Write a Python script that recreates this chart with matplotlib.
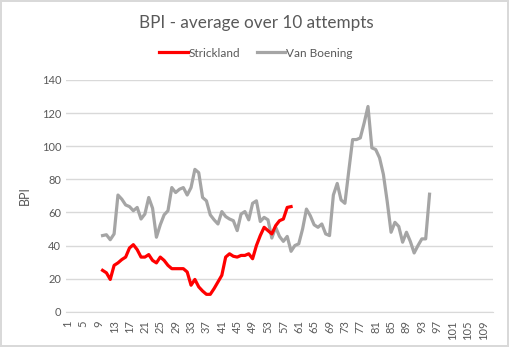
import matplotlib.pyplot as plt
from matplotlib.lines import Line2D

plt.rcParams['font.family'] = ['Lato', 'DejaVu Sans']

# categories 1..111 on the x axis
categories = list(range(1, 112))

strickland_start = 10
strickland = [25, 23.5, 19.5, 28, 29.5, 31.5, 33, 38.5, 40.5, 37.5,
              33, 33, 34.5, 31, 29.5, 33, 31, 28, 26, 26,
              26, 26, 24, 16, 19.5, 15, 12.5, 10.5, 10.5, 14,
              18, 22, 33, 35, 33.5, 33, 34, 34, 35, 32,
              40, 46, 51, 49, 47, 52, 55, 56, 63, 63.5]

vanboening_start = 10
vanboening = [46, 46.5, 43.5, 47, 70.5, 68, 64.5, 63.5, 61, 63,
              56, 59, 69, 62.5, 45, 52.5, 58.5, 61, 75, 72,
              74, 75, 70.5, 75, 86, 84, 69, 67, 58.5, 55.5,
              53, 60.5, 57.5, 56, 55, 49, 59, 60.5, 55.5, 65.5,
              67, 54.5, 57, 55.5, 44.5, 51, 45.5, 42.5, 45.5, 36.5,
              40, 41, 50, 62, 58, 52.5, 51, 53, 47, 46,
              70.5, 77.5, 67.5, 65.5, 85, 104, 104, 105, 114, 124,
              99, 98, 93, 83, 66.5, 48, 54, 51.5, 42, 48,
              42.5, 35.5, 40, 44, 44, 71]

xticks = categories[::4]
yticks = list(range(0, 141, 20))

fig = plt.figure(figsize=(5.09, 3.47), dpi=100)
fig.patch.set_edgecolor('#d9d9d9')
fig.patch.set_linewidth(1.5)
ax = fig.add_axes([0.1297, 0.1017, 0.8389, 0.6678])

x1 = list(range(strickland_start, strickland_start + len(strickland)))
x2 = list(range(vanboening_start, vanboening_start + len(vanboening)))
ax.plot(x2, vanboening, color='#a5a5a5', lw=2.3, solid_joinstyle='round')
ax.plot(x1, strickland, color='#ff0000', lw=2.3, solid_joinstyle='round')

ax.set_xlim(0.5, 111.5)
ax.set_ylim(0, 140)
ax.set_yticks(yticks)
ax.set_xticks(xticks)
ax.set_xticklabels([str(t) for t in xticks], rotation=90)
ax.tick_params(axis='both', length=0, labelsize=8, labelcolor='#595959')
ax.tick_params(axis='x', pad=6)
ax.grid(axis='y', color='#d9d9d9', lw=1)
ax.set_axisbelow(True)
for s in ['top', 'right', 'left']:
    ax.spines[s].set_visible(False)
ax.spines['bottom'].set_color('#d9d9d9')

ax.set_ylabel('BPI', fontsize=9, color='#595959', labelpad=8)

fig.text(0.503, 0.935, 'BPI - average over 10 attempts', ha='center', va='center',
         fontsize=12.3, color='#595959')

handles = [Line2D([], [], color='#ff0000', lw=2.3),
           Line2D([], [], color='#a5a5a5', lw=2.3)]
fig.legend(handles, ['Strickland', 'Van Boening'], loc='center',
           bbox_to_anchor=(0.503, 0.847), ncol=2, frameon=False, fontsize=8.5,
           handlelength=2.4, handletextpad=0.1, columnspacing=1.4,
           labelcolor='#595959')

fig.savefig('out.png', dpi=100)
